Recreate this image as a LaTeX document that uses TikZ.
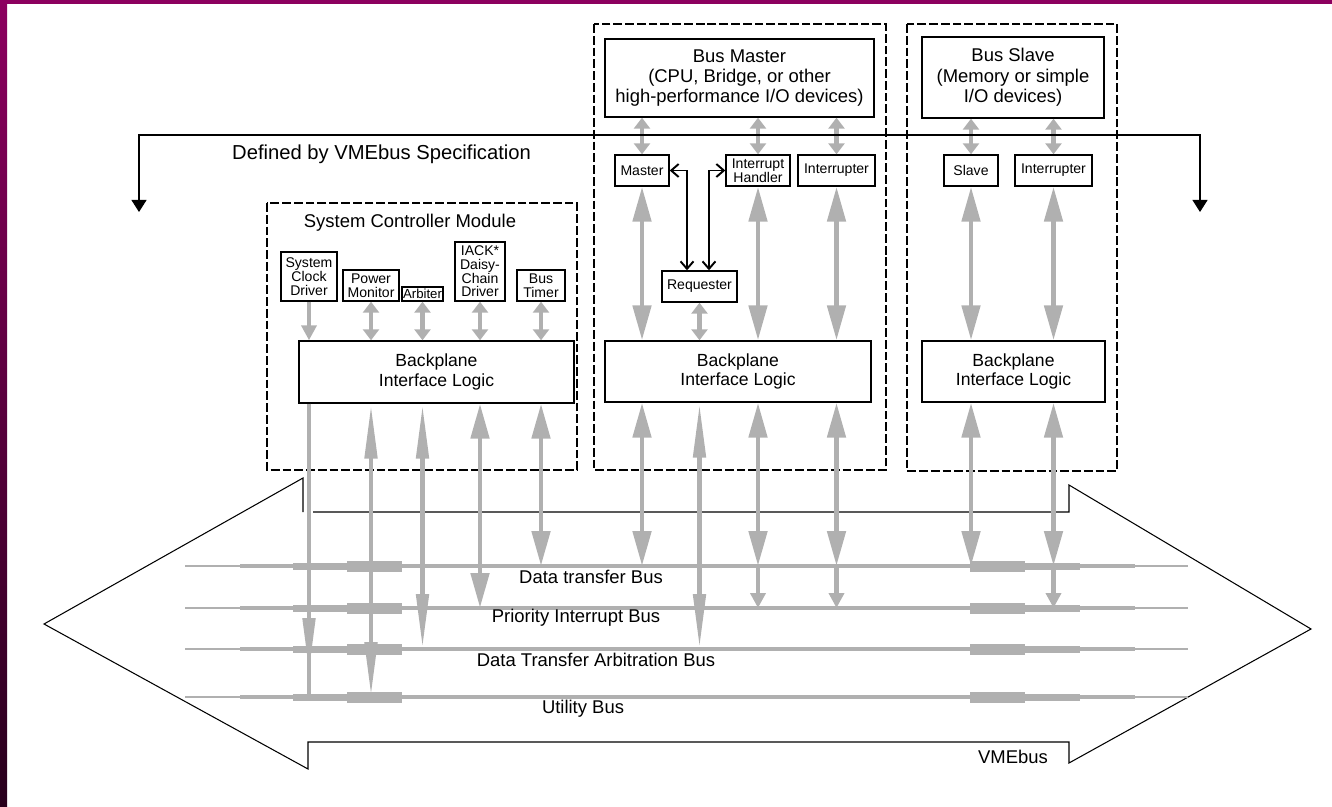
\documentclass[tikz,border=0pt]{standalone}
\usepackage{fontspec}
\setmainfont{Liberation Sans}
\usetikzlibrary{arrows.meta}

\definecolor{busgray}{RGB}{176,176,176}
\definecolor{framepurple}{RGB}{140,0,95}
\definecolor{framedark}{RGB}{40,0,28}
\newcommand{\boxfont}{\fontsize{8}{7.8}\selectfont}
\newcommand{\lblfont}{\fontsize{10.5}{11.6}\selectfont}
\newcommand{\bilfont}{\fontsize{10}{11.3}\selectfont}
\newcommand{\deffont}{\fontsize{11.5}{13}\selectfont}

\tikzset{
  Gbig/.tip={Triangle[length=0.7cm,width=0.36cm]},
  Gsmall/.tip={Triangle[length=0.22cm,width=0.32cm]},
  Gmid/.tip={Triangle[length=0.3cm,width=0.3cm]},
  Gnarrow/.tip={Triangle[length=1.1cm,width=0.24cm]},
  Bk/.tip={Triangle[length=0.24cm,width=0.3cm]},
  Vb/.tip={Straight Barb[length=0.15cm,width=0.26cm,line width=1.1pt]},
  unit/.style={draw, line width=0.8pt, fill=white, inner sep=0pt, align=center, font=\boxfont},
  logic/.style={unit, font=\bilfont},
  module/.style={draw, line width=0.6pt, dash pattern=on 5pt off 1.7pt},
  gline/.style={draw=busgray, line width=2.8pt}
}

\begin{document}
\begin{tikzpicture}[x=0.02cm, y=-0.02cm]
\useasboundingbox (0,0) rectangle (1332,807);

% frame
\fill[framepurple] (0,0) rectangle (1332,4);
\shade[top color=framepurple, bottom color=framedark] (0,0) rectangle (7,807);

% VMEbus outline
\draw[line width=0.6pt] (313,512) -- (1069,512) -- (1069,485) -- (1311,629) -- (1069,763) -- (1069,742)
  -- (308,742) -- (308,769) -- (44,624) -- (303,478) -- (303,512);
\node[font=\lblfont, anchor=east] (vmelbl) at (1054,757) {VMEbus};

% bus lines
\coordinate (dtb) at (0,566);
\coordinate (pib) at (0,608);
\coordinate (dtab) at (0,649);
\coordinate (utb) at (0,697);
\foreach \y in {566,608,649,697}{
  \fill[busgray] (185,\y-1) rectangle (1188,\y+1);
  \fill[busgray] (240,\y-2) rectangle (1135,\y+2);
  \fill[busgray] (293,\y-3.5) rectangle (402,\y+3.5);
  \fill[busgray] (970,\y-3.5) rectangle (1080,\y+3.5);
  \fill[busgray] (347,\y-5.5) rectangle (402,\y+5.5);
  \fill[busgray] (970,\y-5.5) rectangle (1025,\y+5.5);
}
\node[font=\lblfont] (dtblbl) at (591,577) {Data transfer Bus};
\node[font=\lblfont] (piblbl) at (576,618) {Priority Interrupt Bus};
\node[font=\lblfont] (dtablbl) at (596,660) {Data Transfer Arbitration Bus};
\node[font=\lblfont] (utblbl) at (583,709) {Utility Bus};

% System Controller Module
\draw[module] (267,203) rectangle (577,470);
\node[font=\lblfont] (sctitle) at (410,223) {System Controller Module};
\node[unit, minimum width=1.12cm, minimum height=0.98cm] (sclk) at (309,276.5) {System\\Clock\\Driver};
\node[unit, minimum width=1.12cm, minimum height=0.62cm] (pm) at (371,285.5) {Power\\Monitor};
\node[unit, font=\fontsize{7.5}{7.5}\selectfont, minimum width=0.82cm, minimum height=0.28cm] (arb) at (422.5,294) {Arbiter};
\node[unit, minimum width=1cm, minimum height=1.18cm] (iack) at (480,271.5) {IACK*\\Daisy-\\Chain\\Driver};
\node[unit, minimum width=0.96cm, minimum height=0.62cm] (bt) at (541,285.5) {Bus\\Timer};
\node[logic, minimum width=5.5cm, minimum height=1.24cm] (scbil) at (436.5,372) {Backplane\\Interface Logic};

% Bus Master
\draw[module] (594,24) rectangle (886,470);
\node[unit, font=\lblfont, minimum width=5.38cm, minimum height=1.56cm] (bmtop) at (739.5,78) {Bus Master\\(CPU, Bridge, or other\\high-performance I/O devices)};
\node[unit, minimum width=1.08cm, minimum height=0.62cm] (master) at (642,170.5) {Master};
\node[unit, minimum width=1.28cm, minimum height=0.62cm] (ih) at (758,170.5) {Interrupt\\Handler};
\node[unit, minimum width=1.54cm, minimum height=0.62cm] (bmint) at (836.5,170.5) {Interrupter};
\node[unit, minimum width=1.5cm, minimum height=0.62cm] (req) at (699.5,286.5) {Requester};
\node[logic, minimum width=5.32cm, minimum height=1.22cm] (bmbil) at (738,371.5) {Backplane\\Interface Logic};

% Bus Slave
\draw[module] (907,24) rectangle (1117,471);
\node[unit, font=\lblfont, minimum width=3.64cm, minimum height=1.62cm] (bstop) at (1013,77.5) {Bus Slave\\(Memory or simple\\I/O devices)};
\node[unit, minimum width=1.08cm, minimum height=0.62cm] (slave) at (971,170.5) {Slave};
\node[unit, minimum width=1.54cm, minimum height=0.62cm] (bsint) at (1053.5,170.5) {Interrupter};
\node[logic, minimum width=3.66cm, minimum height=1.22cm] (bsbil) at (1013.5,371.5) {Backplane\\Interface Logic};

% arrows inside the modules
\draw[gline,-Gmid] (sclk.south) -- (sclk.south |- scbil.north);
\foreach \n in {pm,arb,iack,bt}
  \draw[gline,Gsmall-Gsmall] (\n.south) -- (\n.south |- scbil.north);
\foreach \n in {master,ih,bmint}{
  \draw[gline,Gsmall-Gsmall] (\n.north |- bmtop.south) -- (\n.north);
  \draw[gline,Gbig-Gbig] (\n.south) -- (\n.south |- bmbil.north);
}
\draw[gline,Gsmall-Gsmall] (req.south) -- (req.south |- bmbil.north);
\foreach \n in {slave,bsint}{
  \draw[gline,Gsmall-Gsmall] (\n.north |- bstop.south) -- (\n.north);
  \draw[gline,Gbig-Gbig] (\n.south) -- (\n.south |- bsbil.north);
}

% arrows down to the buses
\draw[gline] (sclk.south |- scbil.south) -- (sclk.south |- utb);
\draw[gline,-Gnarrow,shorten >=0.48cm] (sclk.south |- scbil.south) -- (sclk.south |- utb);
\draw[gline,Gnarrow-Gnarrow] (pm.south |- scbil.south) -- (pm.south |- utb);
\draw[gline,Gnarrow-Gnarrow] (arb.south |- scbil.south) -- (arb.south |- dtab);
\draw[gline,Gbig-Gbig] (iack.south |- scbil.south) -- (iack.south |- pib);
\draw[gline,Gbig-Gbig] (bt.south |- scbil.south) -- (bt.south |- dtb);
\draw[gline,Gbig-Gbig] (master.south |- bmbil.south) -- (master.south |- dtb);
\draw[gline,Gnarrow-Gnarrow] (req.south |- bmbil.south) -- (req.south |- dtab);
\foreach \n in {ih,bmint}{
  \draw[gline,Gbig-Gbig] (\n.south |- bmbil.south) -- (\n.south |- dtb);
  \draw[gline,-Gmid] (\n.south |- dtb) -- (\n.south |- pib);
}
\draw[gline,Gbig-Gbig] (slave.south |- bsbil.south) -- (slave.south |- dtb);
\draw[gline,Gbig-Gbig] (bsint.south |- bsbil.south) -- (bsint.south |- dtb);
\draw[gline,-Gmid] (bsint.south |- dtb) -- (bsint.south |- pib);

% requester handshakes
\draw[line width=0.7pt, Vb-Vb] (master.east) -| ([xshift=-0.25cm]req.north);
\draw[line width=0.7pt, Vb-Vb] (ih.west) -| ([xshift=0.19cm]req.north);

% specification bracket
\coordinate (defl) at (139,212);
\coordinate (defr) at (1200,212);
\coordinate (deftop) at (0,135);
\draw[line width=0.6pt, Bk-Bk] (defl) -- (defl |- deftop) -- (defr |- deftop) -- (defr);
\node[anchor=west, font=\deffont] (defined) at (226,154) {Defined by VMEbus Specification};

\end{tikzpicture}
\end{document}
